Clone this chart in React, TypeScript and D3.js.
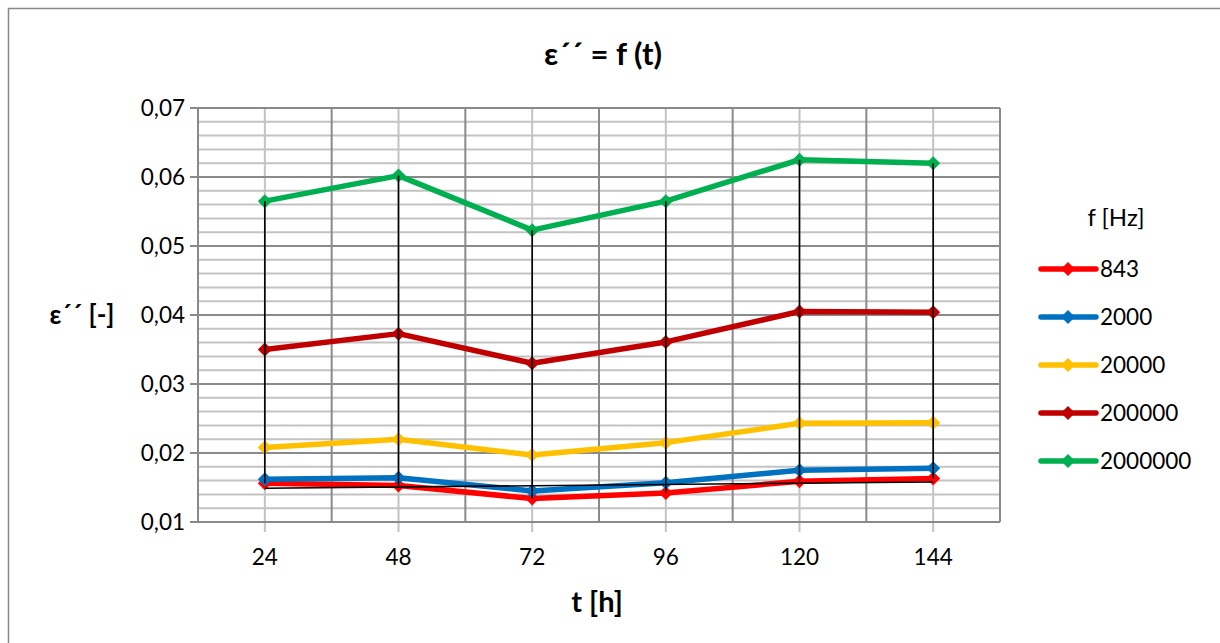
import React from "react";
import * as d3 from "d3";

const categories = ["24", "48", "72", "96", "120", "144"];
const seriesNames = ["843", "2000", "20000", "200000", "2000000"];
const values843 = [0.0156, 0.0153, 0.0134, 0.0142, 0.0159, 0.0163];
const values2000 = [0.0162, 0.0164, 0.0145, 0.0157, 0.0175, 0.0178];
const values20000 = [0.0208, 0.022, 0.0197, 0.0215, 0.0243, 0.0244];
const values200000 = [0.035, 0.0373, 0.033, 0.0361, 0.0405, 0.0404];
const values2000000 = [0.0565, 0.0602, 0.0523, 0.0565, 0.0625, 0.062];
const trendCategories = ["24", "144"];
const trendValues = [0.0149, 0.0158];
const yTicks = [0.01, 0.02, 0.03, 0.04, 0.05, 0.06, 0.07];
const yMinorStep = 0.002;
const colors = ["#ff0000", "#0070c0", "#ffc000", "#c00000", "#00b050"];

const FONT = "Lato, 'Open Sans', sans-serif";

export default function App() {
  const allSeries = [values843, values2000, values20000, values200000, values2000000];
  const left = 198, right = 1000, top = 108, bottom = 522;
  const x = d3.scaleBand<string>().domain(categories).range([left, right]);
  const cx = (c: string) => (x(c) as number) + x.bandwidth() / 2;
  const y = d3.scaleLinear().domain([0.01, 0.07]).range([bottom, top]);
  const minorTicks = d3.range(0.01, 0.07 + 1e-9, yMinorStep).filter(
    (v) => !yTicks.some((t) => Math.abs(t - v) < 1e-9)
  );
  const line = d3
    .line<number>()
    .x((_, i) => cx(categories[i]))
    .y((d) => y(d));
  const r = 7;
  const diamond = (px: number, py: number) =>
    `M${px},${py - r}L${px + r},${py}L${px},${py + r}L${px - r},${py}Z`;
  const boundaries = categories.map((c) => x(c) as number).concat([right]);
  const fmt = (v: number) => v.toFixed(2).replace(".", ",");
  const legendY = [269, 317, 365, 413, 461];

  return (
    <svg
      width={1220}
      height={643}
      style={{ position: "absolute", left: 0, top: 0, background: "#fff" }}
    >
      <rect x={0} y={0} width={1220} height={643} fill="#fff" />
      <rect x={8.5} y={8.5} width={1240} height={700} fill="none" stroke="#888" strokeWidth={1.5} />
      {/* minor horizontal grid */}
      {minorTicks.map((v, i) => (
        <line key={"mn" + i} x1={left} x2={right} y1={y(v)} y2={y(v)} stroke="#c3c3c3" strokeWidth={2} />
      ))}
      {/* vertical light lines at category centers */}
      {categories.map((c) => (
        <line key={"vc" + c} x1={cx(c)} x2={cx(c)} y1={top} y2={bottom + 10} stroke="#c3c3c3" strokeWidth={2} />
      ))}
      {/* vertical dark lines at boundaries */}
      {boundaries.map((bx, i) => (
        <line key={"vb" + i} x1={bx} x2={bx} y1={top} y2={bottom} stroke="#8a8a8a" strokeWidth={2} />
      ))}
      {/* major horizontal grid */}
      {yTicks.map((v) => (
        <line key={"mj" + v} x1={left - 8} x2={right} y1={y(v)} y2={y(v)} stroke="#8a8a8a" strokeWidth={2} />
      ))}
      {/* y tick labels */}
      {yTicks.map((v) => (
        <text key={"yl" + v} x={185} y={y(v)} dy="0.36em" textAnchor="end" fontFamily={FONT} fontSize={22.5} fill="#000">
          {fmt(v)}
        </text>
      ))}
      {/* x tick labels */}
      {categories.map((c) => (
        <text key={"xl" + c} x={cx(c)} y={565} textAnchor="middle" fontFamily={FONT} fontSize={22.5} fill="#000">
          {c}
        </text>
      ))}
      {/* series */}
      {allSeries.map((vals, si) => (
        <g key={"s" + si}>
          <path d={line(vals) || ""} fill="none" stroke={colors[si]} strokeWidth={5.5} strokeLinejoin="round" />
          {vals.map((v, i) => (
            <path key={i} d={diamond(cx(categories[i]), y(v))} fill={colors[si]} />
          ))}
        </g>
      ))}
      {/* high-low lines */}
      {categories.map((c, i) => {
        const vs = allSeries.map((s) => s[i]);
        return (
          <line
            key={"hl" + c}
            x1={cx(c)}
            x2={cx(c)}
            y1={y(d3.max(vs) as number)}
            y2={y(d3.min(vs) as number)}
            stroke="#000"
            strokeWidth={1.6}
          />
        );
      })}
      {/* trend line */}
      <line
        x1={cx(trendCategories[0])}
        x2={cx(trendCategories[1])}
        y1={y(trendValues[0])}
        y2={y(trendValues[1])}
        stroke="#000"
        strokeWidth={1.6}
      />
      {/* title */}
      <text x={603} y={65} textAnchor="middle" fontFamily={FONT} fontSize={31} fontWeight="bold" fill="#000">
        ε´´ = f (t)
      </text>
      <text x={82} y={315} dy="0.36em" textAnchor="middle" fontFamily={FONT} fontSize={26} fontWeight="bold" fill="#000">
        ε´´ [-]
      </text>
      <text x={597} y={612} textAnchor="middle" fontFamily={FONT} fontSize={29} fontWeight="bold" fill="#000">
        t [h]
      </text>
      {/* legend */}
      <text x={1116} y={217} dy="0.36em" textAnchor="middle" fontFamily={FONT} fontSize={24} fill="#000">
        f [Hz]
      </text>
      {seriesNames.map((n, i) => (
        <g key={"lg" + n}>
          <line x1={1041} x2={1096} y1={legendY[i]} y2={legendY[i]} stroke={colors[i]} strokeWidth={5.5} strokeLinecap="round" />
          <path d={diamond(1068, legendY[i])} fill={colors[i]} />
          <text x={1100} y={legendY[i]} dy="0.36em" fontFamily={FONT} fontSize={22.5} fill="#000">
            {n}
          </text>
        </g>
      ))}
    </svg>
  );
}
